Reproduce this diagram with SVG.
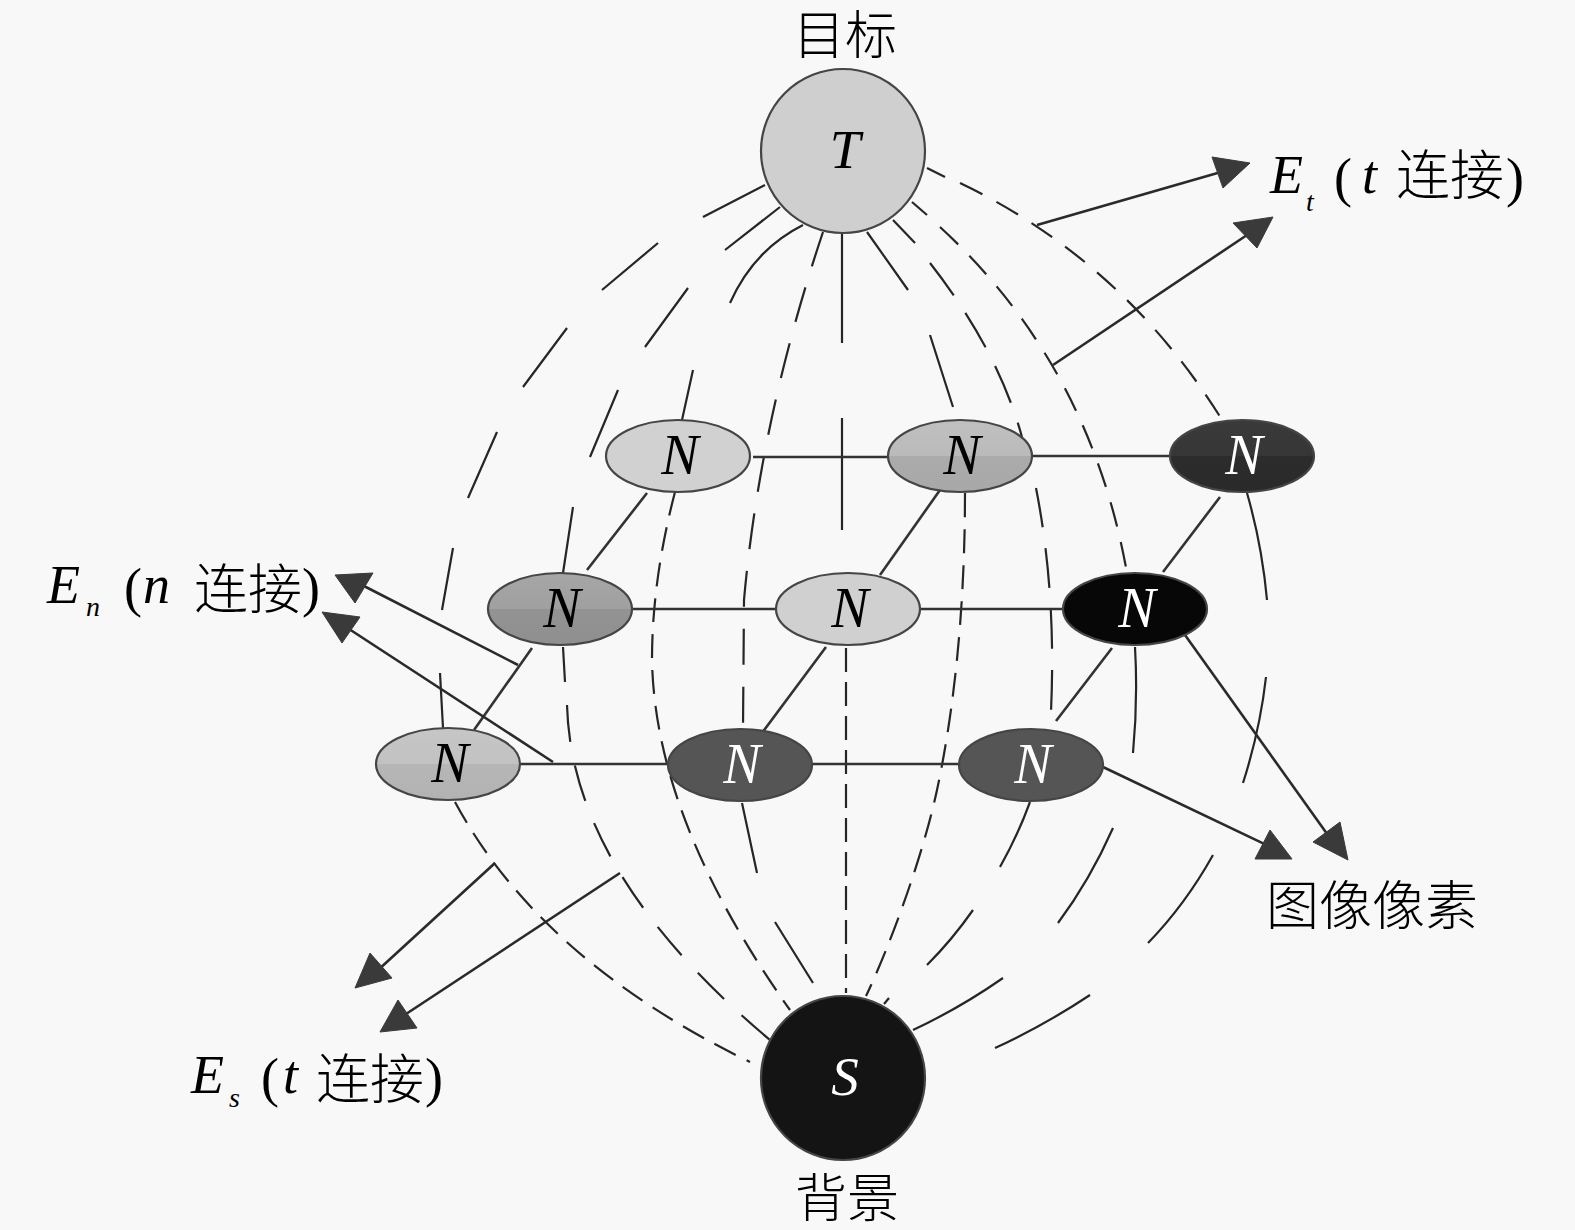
<svg xmlns="http://www.w3.org/2000/svg" width="1575" height="1230" viewBox="0 0 1575 1230">
<defs>
<style>
.bg{fill:#f8f8f8}
.ln{fill:none;stroke:#262626;stroke-width:2.2;stroke-linecap:butt}
.d1{stroke-dasharray:24 12}
.d2{stroke-dasharray:37 24}
.d3{stroke-dasharray:36 22}
.d4{stroke-dasharray:40 21}
.d5{stroke-dasharray:25 16}
.d6{stroke-dasharray:24 10}
.edge{fill:none;stroke:#333;stroke-width:2.6}
.arr{fill:none;stroke:#2a2a2a;stroke-width:2.6}
.head{fill:#3a3a3a;stroke:#3a3a3a;stroke-width:1}
.node{stroke:#454545;stroke-width:2.2}
.math{font-family:"Liberation Serif","Times New Roman",serif;font-style:italic}
.rm{font-family:"Liberation Serif","Times New Roman",serif}
.cjk{font-family:"Liberation Serif","Noto Sans CJK SC",sans-serif;font-weight:300}
.nl{font-family:"Liberation Serif","Times New Roman",serif;font-style:italic;font-size:56px;text-anchor:middle}
</style>
<linearGradient id="gB" x1="0" y1="0" x2="0" y2="1"><stop offset="0" stop-color="#c0c0c0"/><stop offset="0.5" stop-color="#bababa"/><stop offset="0.5" stop-color="#ababab"/><stop offset="1" stop-color="#a8a8a8"/></linearGradient>
<linearGradient id="gD" x1="0" y1="0" x2="0" y2="1"><stop offset="0" stop-color="#a6a6a6"/><stop offset="0.5" stop-color="#a0a0a0"/><stop offset="0.5" stop-color="#939393"/><stop offset="1" stop-color="#8f8f8f"/></linearGradient>
<linearGradient id="gG" x1="0" y1="0" x2="0" y2="1"><stop offset="0" stop-color="#c6c6c6"/><stop offset="0.5" stop-color="#c2c2c2"/><stop offset="0.5" stop-color="#b6b6b6"/><stop offset="1" stop-color="#b2b2b2"/></linearGradient>
<linearGradient id="gC" x1="0" y1="0" x2="0" y2="1"><stop offset="0" stop-color="#3a3a3a"/><stop offset="0.5" stop-color="#363636"/><stop offset="0.5" stop-color="#2c2c2c"/><stop offset="1" stop-color="#2a2a2a"/></linearGradient>
</defs>
<rect class="bg" x="0" y="0" width="1575" height="1230"/>

<g id="connectors">
  <!-- meridian curves T to S -->
  <path class="ln" d="M765,185 L703,217 M658,243 L602,290 M567,328 L523,387 M497,432 L468,498 M453,548 L442,610 M440,673 L443,728"/>
  <path class="ln d1" d="M455,802 Q540,960 750,1062"/>
  <path class="ln" d="M780,207 L725,250 M688,288 L645,347 M618,390 L590,457 M573,507 L563,573 M563,647 L565,682"/>
  <path class="ln d2" d="M567,705 Q571.5,873.5 770,1040"/>
  <path class="ln" d="M803,225 Q753.5,250 730,303 M693,370 L682,420"/>
  <path class="ln d1" d="M675,492 Q652,580 652,660 Q655,820 790,1010"/>
  <path class="ln d3" d="M823,232 Q760,420 744,600 L743,729"/>
  <path class="ln" d="M742,803 Q750,840 757,873 M775,922 L813,983"/>
  <path class="ln" d="M842,233 L842,343 M842,418 L842,530"/>
  <path class="ln d6" d="M846,648 L846,993"/>
  <path class="ln" d="M867,232 L908,290 M930,335 L953,407"/>
  <path class="ln d1" d="M965,493 C965,620 952,720 937,790 S888,950 866,996"/>
  <path class="ln" d="M893,220 L915,243"/>
  <path class="ln d4" d="M930,263 Q998,350 1022,437"/>
  <path class="ln d4" d="M1036,488 Q1058,600 1050,730"/>
  <path class="ln" d="M1030,802 Q1018,835 1000,867 M973,910 Q952,940 927,965 M889,998 L884,1004"/>
  <path class="ln" d="M912,202 L927,215"/>
  <path class="ln d5" d="M940,227 Q1090,365 1127,573"/>
  <path class="ln" d="M1135,647 Q1138,700 1133,753 M1113,828 Q1090,880 1058,923 M1003,978 Q960,1008 913,1030"/>
  <path class="ln" d="M927,168 L945,177"/>
  <path class="ln d5" d="M960,183 Q1125,262 1224,423"/>
  <path class="ln" d="M1247,493 Q1262,545 1267,600 M1266,677 Q1260,730 1243,783 M1213,855 Q1185,905 1148,943 M1090,995 Q1045,1025 995,1048"/>

  <!-- grid edges -->
  <path class="edge" d="M753,457 L888,457 M1032,456 L1171,456 M632,609 L777,609 M920,609 L1064,609 M520,764 L669,764 M812,764 L959,764"/>
  <path class="edge" d="M647,493 L587,570 M940,490 L880,575 M1220,497 L1163,572 M532,648 L474,730 M826,647 L762,733 M1112,648 L1056,721"/>

  <!-- annotation arrows -->
  <path class="arr" d="M1037,225 L1228,170"/>
  <polygon class="head" points="1212,157 1250,163 1223,188"/>
  <path class="arr" d="M1053,365 L1250,233"/>
  <polygon class="head" points="1233,223 1273,217 1257,248"/>
  <path class="arr" d="M518,665 L360,584"/>
  <polygon class="head" points="335,575 373,573 355,603"/>
  <path class="arr" d="M553,762 L346,627"/>
  <polygon class="head" points="322,612 360,617 342,643"/>
  <path class="arr" d="M495,863 L377,971"/>
  <polygon class="head" points="355,988 370,953 392,978"/>
  <path class="arr" d="M620,873 L403,1016"/>
  <polygon class="head" points="380,1032 398,1000 417,1028"/>
  <path class="arr" d="M1103,767 L1275,849"/>
  <polygon class="head" points="1255,859 1270,830 1292,859"/>
  <path class="arr" d="M1185,635 L1330,838"/>
  <polygon class="head" points="1313,842 1340,822 1348,860"/>
</g>

<g id="node-T">
  <circle class="node" cx="843" cy="151" r="82" fill="#cfcfcf"/>
  <text class="math" x="845" y="168" font-size="55" text-anchor="middle">T</text>
</g>
<g id="node-S">
  <circle class="node" cx="843" cy="1078" r="82" fill="#141414"/>
  <text class="math" x="845" y="1095" font-size="55" text-anchor="middle" fill="#ffffff">S</text>
</g>
<g id="node-A"><ellipse class="node" cx="678" cy="456" rx="72" ry="36" fill="#d1d1d1"/><text class="nl" x="680" y="474">N</text></g>
<g id="node-B"><ellipse class="node" cx="960" cy="456" rx="72" ry="36" fill="url(#gB)"/><text class="nl" x="962" y="474">N</text></g>
<g id="node-C"><ellipse class="node" cx="1242" cy="456" rx="72" ry="36" fill="url(#gC)"/><text class="nl" x="1244" y="474" fill="#ffffff">N</text></g>
<g id="node-D"><ellipse class="node" cx="560" cy="609" rx="72" ry="36" fill="url(#gD)"/><text class="nl" x="562" y="627">N</text></g>
<g id="node-E"><ellipse class="node" cx="848" cy="609" rx="72" ry="36" fill="#d0d0d0"/><text class="nl" x="850" y="627">N</text></g>
<g id="node-F"><ellipse class="node" cx="1135" cy="609" rx="72" ry="36" fill="#070707"/><text class="nl" x="1137" y="627" fill="#ffffff">N</text></g>
<g id="node-G"><ellipse class="node" cx="448" cy="764" rx="72" ry="36" fill="url(#gG)"/><text class="nl" x="450" y="782">N</text></g>
<g id="node-H"><ellipse class="node" cx="740" cy="765" rx="72" ry="36" fill="#555555"/><text class="nl" x="742" y="783" fill="#ffffff">N</text></g>
<g id="node-I"><ellipse class="node" cx="1031" cy="765" rx="72" ry="36" fill="#555555"/><text class="nl" x="1033" y="783" fill="#ffffff">N</text></g>

<g id="labels">
  <text class="cjk" x="845" y="54" font-size="52" text-anchor="middle">目标</text>
  <text class="cjk" x="847" y="1217" font-size="52" text-anchor="middle">背景</text>
  <text class="cjk" x="1266" y="925" font-size="53">图像像素</text>

  <text class="math" x="1270" y="193" font-size="54">E</text>
  <text class="math" x="1306" y="211" font-size="28">t</text>
  <text class="rm" x="1334" y="196" font-size="54">(</text>
  <text class="math" x="1362" y="193" font-size="54">t</text>
  <text class="cjk" x="1396" y="195" font-size="54">连接</text>
  <text class="rm" x="1506" y="196" font-size="54">)</text>

  <text class="math" x="47" y="603" font-size="54">E</text>
  <text class="math" x="86" y="616" font-size="28">n</text>
  <text class="rm" x="124" y="606" font-size="54">(</text>
  <text class="math" x="143" y="603" font-size="54">n</text>
  <text class="cjk" x="194" y="609" font-size="54">连接</text>
  <text class="rm" x="302" y="606" font-size="54">)</text>

  <text class="math" x="191" y="1093" font-size="54">E</text>
  <text class="math" x="229" y="1107" font-size="28">s</text>
  <text class="rm" x="261" y="1096" font-size="54">(</text>
  <text class="math" x="283" y="1093" font-size="54">t</text>
  <text class="cjk" x="316" y="1099" font-size="54">连接</text>
  <text class="rm" x="425" y="1096" font-size="54">)</text>
</g>
</svg>
